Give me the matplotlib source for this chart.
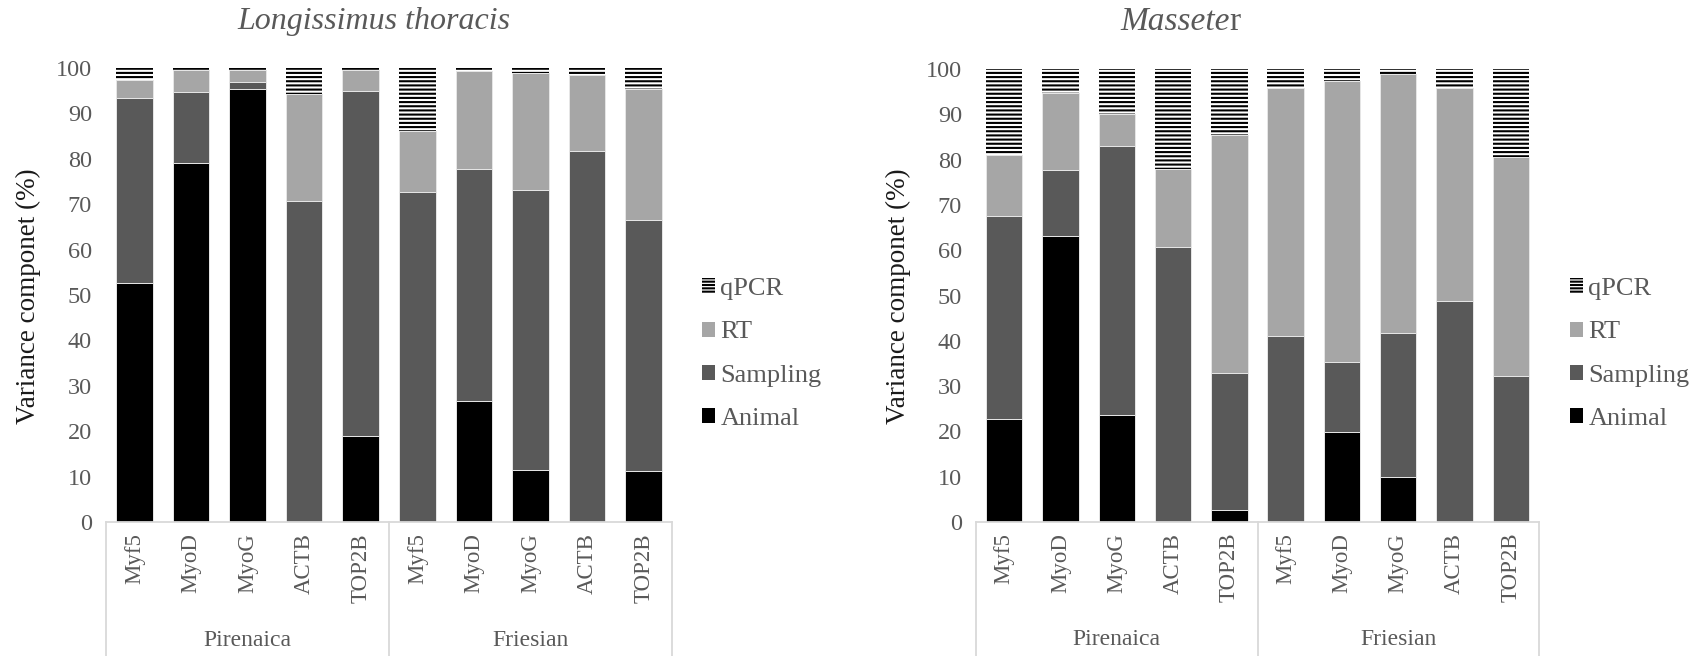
import matplotlib
matplotlib.use("Agg")
import matplotlib.pyplot as plt
from matplotlib.patches import Patch
import matplotlib.transforms as mtransforms

plt.rcParams['font.family'] = ['Liberation Serif', 'DejaVu Serif']
plt.rcParams['hatch.linewidth'] = 1.5

genes = ["Myf5", "MyoD", "MyoG", "ACTB", "TOP2B", "Myf5", "MyoD", "MyoG", "ACTB", "TOP2B"]
groups = ["Pirenaica", "Friesian"]
components = ["Animal", "Sampling", "RT", "qPCR"]

# Longissimus thoracis
lt_animal = [52.7, 79.1, 95.3, 0.0, 18.9, 0.0, 26.6, 11.5, 0.0, 11.3]
lt_sampling = [40.6, 15.7, 1.6, 70.7, 76.0, 72.6, 51.2, 61.7, 81.7, 55.3]
lt_rt = [4.1, 4.8, 2.6, 23.6, 4.6, 13.6, 21.5, 25.8, 16.7, 28.7]
lt_qpcr = [2.6, 0.4, 0.5, 5.7, 0.5, 13.8, 0.7, 1.0, 1.6, 4.7]

# Masseter
ms_animal = [22.8, 63.2, 23.6, 0.0, 2.7, 0.0, 19.8, 9.9, 0.0, 0.0]
ms_sampling = [44.8, 14.6, 59.4, 60.7, 30.3, 41.0, 15.5, 31.8, 48.7, 32.3]
ms_rt = [13.4, 17.0, 7.0, 17.3, 52.4, 54.7, 62.1, 57.1, 47.0, 48.2]
ms_qpcr = [19.0, 5.2, 10.0, 22.0, 14.6, 4.3, 2.6, 1.2, 4.3, 19.5]

W, H = 1698, 656
fig = plt.figure(figsize=(W / 100, H / 100), dpi=100)

TXT = "#595959"
LINE = "#d9d9d9"
colors = {"Animal": "#000000", "Sampling": "#595959", "RT": "#a6a6a6"}


def draw(ax, series, legend_x):
    x = list(range(len(genes)))
    bottom = [0.0] * len(genes)
    for name, vals in zip(components, series):
        if name == "qPCR":
            ax.bar(x, vals, 0.645, bottom=bottom, facecolor="white",
                   edgecolor="black", linewidth=0, hatch="----")
        else:
            ax.bar(x, vals, 0.645, bottom=bottom, color=colors[name],
                   edgecolor="#e6e6e6", linewidth=0.7)
        bottom = [b + v for b, v in zip(bottom, vals)]
    ax.set_xlim(-0.5, len(genes) - 0.5)
    ax.set_ylim(0, 100)
    ax.set_yticks(range(0, 101, 10))
    ax.tick_params(axis="y", length=0, pad=10, labelsize=17.5, labelcolor=TXT)
    ax.set_xticks([])
    for s in ["top", "right", "left", "bottom"]:
        ax.spines[s].set_visible(False)
    trans = mtransforms.blended_transform_factory(ax.transData, ax.transAxes)
    ax.plot([-0.5, 9.5], [0, 0], color=LINE, lw=1.3, transform=trans, clip_on=False)
    for xv in [-0.5, 4.5, 9.5]:
        ax.plot([xv, xv], [0, -0.4], color=LINE, lw=1.3, transform=trans, clip_on=False)
    for i, g in enumerate(genes):
        ax.text(i, -0.024, g, rotation=90, ha="center", va="top", fontsize=16.5,
                color=TXT, transform=trans)
    for j, grp in enumerate(groups):
        ax.text(2 + 5 * j, -0.26, grp, ha="center", va="center", fontsize=17,
                color=TXT, transform=trans)
    handles = [Patch(facecolor="white", edgecolor="black", linewidth=0, hatch="-----"),
               Patch(facecolor=colors["RT"]),
               Patch(facecolor=colors["Sampling"]),
               Patch(facecolor=colors["Animal"])]
    labels = ["qPCR", "RT", "Sampling", "Animal"]
    fig.legend(handles, labels, loc="center left",
               bbox_to_anchor=(legend_x / W, 1 - 354 / H), frameon=False,
               fontsize=19, handlelength=0.5, handleheight=0.5,
               handletextpad=0.2, labelspacing=0.8, borderpad=0,
               borderaxespad=0, labelcolor=TXT)


ax1 = fig.add_axes([106 / W, 1 - 522 / H, 566 / W, 454 / H])
draw(ax1, [lt_animal, lt_sampling, lt_rt, lt_qpcr], 702)
ax2 = fig.add_axes([976 / W, 1 - 522 / H, 563 / W, 453 / H])
draw(ax2, [ms_animal, ms_sampling, ms_rt, ms_qpcr], 1570)

fig.text(374 / W, 1 - 22 / H, "Longissimus thoracis", style="italic", fontsize=23,
         ha="center", va="center", color=TXT)
t1 = fig.text(1175 / W, 1 - 22 / H, "Massete", style="italic", fontsize=24,
              ha="center", va="center", color=TXT)
ann = plt.annotate("r", xy=(1, 0), xycoords=t1, va="bottom", ha="left",
                   fontsize=24, color=TXT, annotation_clip=False)
ann.remove()
fig.add_artist(ann)

for xf in [28, 898]:
    fig.text(xf / W, 1 - 296 / H, "Variance componet (%)", rotation=90,
             ha="center", va="center", fontsize=19.5, color="#1a1a1a")

fig.savefig("out.png", dpi=100)
